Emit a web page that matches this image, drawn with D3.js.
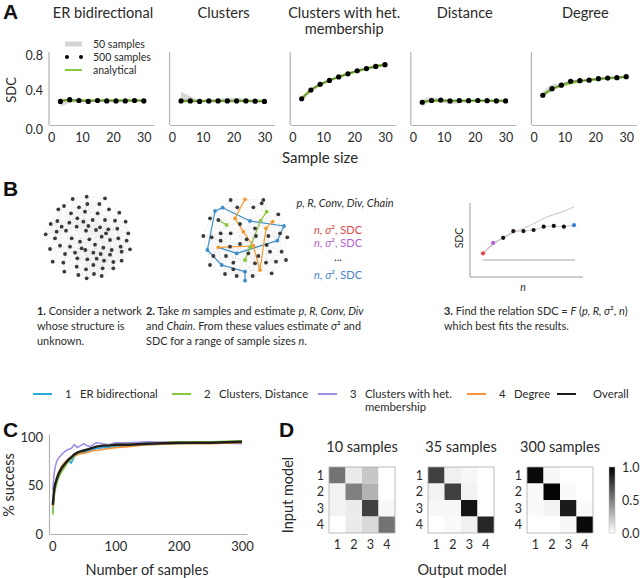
<!DOCTYPE html>
<html><head><meta charset="utf-8">
<script src="https://cdn.jsdelivr.net/npm/d3@7"></script>
<style>
body{margin:0;background:#fff}
svg{display:block}
text{font-family:Lato,"Open Sans",sans-serif;fill:#2a2a2a}
.lab{font-family:"Liberation Sans",Arial,sans-serif;font-weight:bold;fill:#111}
</style>
</head><body>
<svg id="c" width="640" height="578"></svg>
<script>
// ---------------- DATA ----------------
const sampleSizes = [3,6,9,12,15,18,21,24,27,30];
const panelTitles = [["ER bidirectional"],["Clusters"],["Clusters with het.","membership"],["Distance"],["Degree"]];
const sdcTicks = [0,0.4,0.8];
const sizeTicks = [0,10,20,30];
// 500 samples (dots)
const sdcER       = [0.27,0.29,0.28,0.27,0.28,0.275,0.275,0.275,0.28,0.275];
const sdcClusters = [0.275,0.275,0.27,0.275,0.275,0.275,0.275,0.275,0.272,0.27];
const sdcHet      = [0.30,0.40,0.465,0.51,0.55,0.585,0.62,0.645,0.67,0.69];
const sdcDistance = [0.26,0.28,0.285,0.275,0.28,0.278,0.28,0.278,0.275,0.275];
const sdcDegree   = [0.34,0.415,0.455,0.50,0.507,0.512,0.53,0.537,0.541,0.552];
// analytical (green)
const anER       = [0.28,0.28,0.28,0.28,0.28,0.28,0.28,0.28,0.28,0.28];
const anClusters = [0.275,0.275,0.275,0.275,0.275,0.275,0.275,0.275,0.275,0.275];
const anHet      = [0.30,0.40,0.46,0.51,0.55,0.585,0.615,0.645,0.67,0.69];
const anDistance = [0.27,0.275,0.278,0.278,0.278,0.278,0.278,0.278,0.278,0.278];
const anDegree   = [0.34,0.41,0.45,0.48,0.50,0.515,0.525,0.535,0.543,0.55];
// 50 samples (grey band): low / high
const bandERlo = [0.21,0.25,0.26,0.265,0.265,0.265,0.265,0.265,0.265,0.265];
const bandERhi = [0.30,0.30,0.29,0.29,0.29,0.29,0.29,0.29,0.29,0.29];
const bandClLo = [0.26,0.26,0.26,0.265,0.27,0.27,0.27,0.26,0.26,0.255];
const bandClHi = [0.38,0.33,0.29,0.29,0.30,0.31,0.31,0.30,0.29,0.29];
const bandHetLo = [0.27,0.37,0.445,0.495,0.535,0.57,0.605,0.63,0.655,0.675];
const bandHetHi = [0.32,0.42,0.48,0.525,0.565,0.60,0.635,0.66,0.685,0.705];
const bandDiLo = [0.20,0.27,0.26,0.24,0.245,0.26,0.265,0.265,0.265,0.265];
const bandDiHi = [0.29,0.32,0.30,0.29,0.29,0.29,0.29,0.29,0.29,0.29];
const bandDeLo = [0.32,0.39,0.44,0.48,0.49,0.50,0.515,0.525,0.53,0.54];
const bandDeHi = [0.38,0.46,0.48,0.51,0.52,0.525,0.54,0.55,0.555,0.565];

const legendA = ["50 samples","500 samples","analytical"];

// Panel B schematic: network nodes (picture units)
const net1Nodes = [[260,140],[218,147],[315,145],[192,168],[262,162],[298,162],[175,178],[237,172],[327,178],[358,188],
[213,190],[255,185],[293,190],[152,222],[172,213],[208,218],[232,205],[250,215],[278,210],[315,210],[345,212],[377,215],
[185,230],[230,230],[265,228],[300,232],[325,238],[352,236],[137,253],[170,245],[198,242],[258,242],[288,240],[318,250],[385,250],
[165,265],[215,265],[240,275],[268,268],[305,260],[330,270],[355,265],[380,272],[150,297],[180,287],[210,290],[245,295],[285,284],
[310,293],[335,300],[362,290],[390,298],[195,312],[225,308],[256,300],[280,308],[302,312],[330,314],[365,305],[158,335],[190,338],
[232,325],[262,328],[290,326],[312,332],[340,336],[365,332],[230,350],[258,358],[280,345],[308,355],[340,355],[193,365],[235,375],
[260,385],[282,372],[305,378]];
// [x, y, group] group: 0 dark, 1 blue, 2 orange, 3 green
const net2Nodes = [
[45,183,1],[68,173,1],[22,300,1],[65,345,1],[110,310,1],[232,272,1],[135,365,1],[135,392,1],[150,213,1],[252,228,1],
[135,148,2],[105,205,2],[130,245,2],[218,215,2],[198,235,2],[55,292,2],[160,288,2],[180,360,2],
[200,185,3],[80,225,3],[135,330,3],[150,292,3],[182,212,3],
[92,150,0],[185,160,0],[160,172,0],[112,172,0],[235,193,0],[30,205,0],[55,210,0],[120,222,0],[165,235,0],[240,250,0],
[10,258,0],[35,262,0],[62,250,0],[92,250,0],[168,258,0],[205,258,0],[262,262,0],[90,290,0],[120,282,0],[200,285,0],
[40,318,0],[78,318,0],[145,310,0],[175,318,0],[210,305,0],[245,305,0],[30,345,0],[100,338,0],[165,340,0],[198,338,0],
[228,335,0],[258,330,0],[75,372,0],[110,378,0],[158,378,0],[215,370,0],[140,268,0],[62,272,0],[190,150,0],[100,358,0]];
const net2Edges = [[0,1,1],[0,2,1],[1,8,1],[2,3,1],[15,4,1],[4,5,1],[5,9,1],[6,7,1],[3,6,1],[8,9,1],
[10,11,2],[11,12,2],[12,16,2],[15,16,2],[13,14,2],[14,17,2],[16,17,2],
[18,22,3],[22,21,3],[21,20,3],[19,29,3]];
const miniDots = [0.32,0.46,0.53,0.62,0.62,0.635,0.68,0.69,0.68,0.70];
const miniCurveX = [0,1,2,3.6,5,6.3,8,9];
const miniCurveY = [0.32,0.44,0.53,0.635,0.72,0.81,0.89,0.95];

// Panel C
const cSamples = [1,3,5,8,10,15,20,25,30,35,40,45,50,55,60,65,70,80,90,100,120,150,200,250,300];
const cER        = [22,40,48,55,58,66,72,76,73,80,82,83,84,85,86,87,88,89,89,90,91,92,93,94,95];
const cClustDist = [20,38,46,54,58,64,69,74,77,80,82,84,86,87,88,89,90,91,92,93,93,94,95,95,96];
const cHet       = [45,62,70,76,78,82,85,87,88,92,89,91,93,91,90,92,94,93,92,94,94,95,94,94,93];
const cDegree    = [28,45,53,60,63,70,74,77,79,81,82,83,83,84,85,86,86,87,88,89,90,92,93,93,94];
const cOverall   = [30,45,52,58,62,68,72,76,79,82,84,85,86,87,88,89,90,91,91,92,92,93,94,94,95];
const cSizeTicks = [0,100,200,300];
const cPctTicks = [0,50,100];
const legendNums = ["1","2","3","4",""];
const legendNames = [["ER bidirectional"],["Clusters, Distance"],["Clusters with het.","membership"],["Degree"],["Overall"]];

// Panel D confusion matrices (rows: input model, cols: output model)
const matTitles = ["10 samples","35 samples","300 samples"];
const mat10  = [[0.55,0.08,0.22,0.0],[0.05,0.50,0.30,0.0],[0.05,0.08,0.75,0.03],[0.0,0.08,0.15,0.55]];
const mat35  = [[0.75,0.06,0.03,0.0],[0.05,0.75,0.05,0.0],[0.03,0.03,0.92,0.0],[0.0,0.02,0.06,0.85]];
const mat300 = [[0.96,0.03,0.0,0.0],[0.02,0.98,0.02,0.0],[0.02,0.05,0.90,0.02],[0.0,0.0,0.03,0.96]];
const modelIds = ["1","2","3","4"];
const cbarTicks = [0,0.5,1.0];

// ---------------- DRAWING ----------------
const svg = d3.select("#c");
svg.append("rect").attr("width",640).attr("height",578).attr("fill","#fff");
const AX = "#b3b3b3";
const GREEN = "#8cc63f";

function styleAxis(g){ g.select(".domain").attr("stroke",AX).attr("stroke-width",1.2); g.selectAll(".tick line").remove(); g.selectAll("text").attr("fill","#2a2a2a").style("font-family","Lato, sans-serif"); }

// Panel labels
[["A",3,19],["B",3,196],["C",3,437],["D",279,437]].forEach(([t,x,y])=>svg.append("text").attr("class","lab").attr("x",x).attr("y",y).attr("font-size",21).text(t));

// ---- Panel A ----
const sets = [
 {dots:sdcER, an:anER, lo:bandERlo, hi:bandERhi},
 {dots:sdcClusters, an:anClusters, lo:bandClLo, hi:bandClHi},
 {dots:sdcHet, an:anHet, lo:bandHetLo, hi:bandHetHi},
 {dots:sdcDistance, an:anDistance, lo:bandDiLo, hi:bandDiHi},
 {dots:sdcDegree, an:anDegree, lo:bandDeLo, hi:bandDeHi}];
const yA = d3.scaleLinear().domain([0,0.8]).range([125,55]);
sets.forEach((s,i)=>{
  const x0 = 49 + i*120.6;
  const xA = d3.scaleLinear().domain([-0.7,33.3]).range([x0,x0+105]);
  const g = svg.append("g");
  panelTitles[i].forEach((t,k)=>g.append("text").attr("x",x0+54).attr("y",18+k*16).attr("text-anchor","middle").attr("font-size",14.6).text(t));
  const gx = g.append("g").attr("transform",`translate(0,${yA(0)})`).call(d3.axisBottom(xA).tickValues(sizeTicks).tickSize(0).tickSizeOuter(0).tickPadding(8));
  styleAxis(gx); gx.selectAll("text").attr("font-size",12.5);
  const gy = g.append("g").attr("transform",`translate(${x0},0)`).call(d3.axisLeft(yA).tickValues(sdcTicks).tickFormat(d3.format(".1f")).tickSize(0).tickSizeOuter(0).tickPadding(6));
  styleAxis(gy); gy.selectAll("text").attr("font-size",12.5);
  gy.select(".domain").attr("d",`M0,${yA(0)}V52`);
  if(i>0) gy.selectAll(".tick").remove();
  else gy.selectAll(".tick text").attr("dy", d=> d===0 ? "0.7em" : "0.32em");
  const area = d3.area().x((d,j)=>xA(sampleSizes[j])).y0(d=>yA(d[0])).y1(d=>yA(d[1])).curve(d3.curveMonotoneX);
  g.append("path").datum(s.lo.map((v,j)=>[v,s.hi[j]])).attr("d",area).attr("fill","#d4d4d4").attr("opacity",0.9);
  const line = d3.line().x((d,j)=>xA(sampleSizes[j])).y(d=>yA(d)).curve(d3.curveMonotoneX);
  g.append("path").datum(s.an).attr("d",line).attr("fill","none").attr("stroke",GREEN).attr("stroke-width",2.6);
  g.append("path").datum(s.dots).attr("d",line).attr("fill","none").attr("stroke","#333").attr("stroke-width",0.6);
  g.selectAll("circle").data(s.dots).join("circle").attr("cx",(d,j)=>xA(sampleSizes[j])).attr("cy",d=>yA(d)).attr("r",2.6).attr("fill","#000");
});
svg.append("text").attr("transform","translate(16,90) rotate(-90)").attr("text-anchor","middle").attr("font-size",13).text("SDC");
svg.append("text").attr("x",320).attr("y",163).attr("text-anchor","middle").attr("font-size",15).text("Sample size");
const lg = svg.append("g");
lg.append("line").attr("x1",65).attr("x2",82).attr("y1",44).attr("y2",44).attr("stroke","#d4d4d4").attr("stroke-width",5);
lg.append("circle").attr("cx",67).attr("cy",57).attr("r",2).attr("fill","#000");
lg.append("circle").attr("cx",81).attr("cy",57).attr("r",2).attr("fill","#000");
lg.append("line").attr("x1",65).attr("x2",82).attr("y1",70).attr("y2",70).attr("stroke",GREEN).attr("stroke-width",2);
legendA.forEach((t,k)=>lg.append("text").attr("x",93).attr("y",47.5+k*13).attr("font-size",10.5).text(t));

// ---- Panel B ----
const n1x = d3.scaleLinear().domain([0,690]).range([0,230]);
const n1y = d3.scaleLinear().domain([0,480]).range([150,310]);
function faintEdges(g, pts, sx, sy, thr){
  for(let i=0;i<pts.length;i++) for(let j=i+1;j<pts.length;j++){
    const dx=pts[i][0]-pts[j][0], dy=pts[i][1]-pts[j][1];
    if(Math.hypot(dx,dy)<thr) g.append("line").attr("x1",sx(pts[i][0])).attr("y1",sy(pts[i][1])).attr("x2",sx(pts[j][0])).attr("y2",sy(pts[j][1])).attr("stroke","#e4e4e4").attr("stroke-width",0.5);
  }
}
const g1 = svg.append("g");
faintEdges(g1, net1Nodes, n1x, n1y, 62);
g1.selectAll("circle").data(net1Nodes).join("circle").attr("cx",d=>n1x(d[0])).attr("cy",d=>n1y(d[1])).attr("r",1.9).attr("fill","#3a3a3a");

const n2x = d3.scaleLinear().domain([0,720]).range([200,440]);
const n2y = d3.scaleLinear().domain([0,480]).range([150,310]);
const netCol = ["#3a3a3a","#3b8ec9","#f39a2e","#8cc63f"];
const g2 = svg.append("g");
faintEdges(g2, net2Nodes, n2x, n2y, 62);
g2.selectAll("line.e").data(net2Edges).join("line").attr("class","e")
  .attr("x1",d=>n2x(net2Nodes[d[0]][0])).attr("y1",d=>n2y(net2Nodes[d[0]][1]))
  .attr("x2",d=>n2x(net2Nodes[d[1]][0])).attr("y2",d=>n2y(net2Nodes[d[1]][1]))
  .attr("stroke",d=>netCol[d[2]]).attr("stroke-width",1.2);
g2.selectAll("circle").data(net2Nodes).join("circle").attr("cx",d=>n2x(d[0])).attr("cy",d=>n2y(d[1])).attr("r",1.9).attr("fill",d=>netCol[d[2]]);

const tb = svg.append("g").attr("font-size",11);
tb.append("text").attr("x",345).attr("y",207).attr("text-anchor","middle").attr("font-style","italic").text("p, R, Conv, Div, Chain");
const sdcRows = [["#e2474b",234],["#b561d3",247],["#4a7fcc",279]];
sdcRows.forEach(([c,y])=>{
  const t = tb.append("text").attr("x",338).attr("y",y).attr("text-anchor","middle").style("fill",c);
  t.append("tspan").attr("font-style","italic").text("n");
  t.append("tspan").text(", ");
  t.append("tspan").attr("font-style","italic").text("σ");
  t.append("tspan").text("², SDC");
});
tb.append("text").attr("x",338).attr("y",261).attr("text-anchor","middle").text("...");

const mx = d3.scaleLinear().domain([0,9]).range([483,574]);
const my = d3.scaleLinear().domain([0,1]).range([277,203]);
const g3 = svg.append("g");
g3.append("path").attr("d",`M470,203V277H583`).attr("fill","none").attr("stroke","#999").attr("stroke-width",1);
g3.append("line").attr("x1",mx(0)).attr("x2",mx(9.1)).attr("y1",my(0.23)).attr("y2",my(0.23)).attr("stroke","#a8a8a8").attr("stroke-width",1);
g3.append("path").datum(miniCurveX.map((v,k)=>[v,miniCurveY[k]])).attr("d",d3.line().x(d=>mx(d[0])).y(d=>my(d[1])).curve(d3.curveMonotoneX)).attr("fill","none").attr("stroke","#cfcfcf").attr("stroke-width",1.2);
g3.append("path").datum(miniDots).attr("d",d3.line().x((d,k)=>mx(k)).y(d=>my(d))).attr("fill","none").attr("stroke","#c9a6b0").attr("stroke-width",0.7);
g3.selectAll("circle").data(miniDots).join("circle").attr("cx",(d,k)=>mx(k)).attr("cy",d=>my(d)).attr("r",2.1)
  .attr("fill",(d,k)=>k===0?"#e2474b":k===1?"#b561d3":k===9?"#3a7fd5":"#111");
svg.append("text").attr("transform","translate(463,238) rotate(-90)").attr("text-anchor","middle").attr("font-size",10.5).text("SDC");
svg.append("text").attr("x",523).attr("y",291).attr("text-anchor","middle").attr("font-size",10.5).attr("font-style","italic").text("n");

function caption(x, y, lines){
  lines.forEach((parts,k)=>{
    const t = svg.append("text").attr("x",x).attr("y",y+k*15).attr("font-size",10.9);
    parts.forEach(p=>{ const s=t.append("tspan").text(p[0]); if(p[1]==="b") s.attr("font-weight","bold"); if(p[1]==="i") s.attr("font-style","italic"); });
  });
}
caption(37,315,[[["1.","b"],[" Consider a network"]],[["whose structure is"]],[["unknown."]]]);
caption(146,315,[[["2.","b"],[" Take "],["m","i"],[" samples and estimate "],["p, R, Conv, Div","i"]],
  [["and "],["Chain","i"],[". From these values estimate "],["σ","i"],["² and"]],
  [["SDC for a range of sample sizes "],["n","i"],["."]]]);
caption(444,315,[[["3.","b"],[" Find the relation SDC = "],["F","i"],[" ("],["p, R, σ","i"],["², "],["n","i"],[")"]],[["which best fits the results."]]]);

// ---- Legend C/D ----
const cCols = ["#29abe2","#8cc63f","#a08ee8","#f7923a","#1e1e1e"];
const legX = [33,172,318,467,557];
const leg = svg.append("g").attr("font-size",11.3);
legX.forEach((x,k)=>{
  leg.append("line").attr("x1",x).attr("x2",x+19).attr("y1",394).attr("y2",394).attr("stroke",cCols[k]).attr("stroke-width",2);
  if(legendNums[k]) leg.append("text").attr("x",x+32).attr("y",398).text(legendNums[k]);
  legendNames[k].forEach((t,j)=>leg.append("text").attr("x",x+(legendNums[k]?47:36)).attr("y",398+j*13).text(t));
});

// ---- Panel C ----
const xC = d3.scaleLinear().domain([-5,308]).range([49,247]);
const yC = d3.scaleLinear().domain([0,103]).range([534,434]);
const gC = svg.append("g");
const gcx = gC.append("g").attr("transform",`translate(0,534)`).call(d3.axisBottom(xC).tickValues(cSizeTicks).tickSize(0).tickSizeOuter(0).tickPadding(8));
styleAxis(gcx); gcx.selectAll("text").attr("font-size",13);
const gcy = gC.append("g").attr("transform",`translate(49,0)`).call(d3.axisLeft(yC).tickValues(cPctTicks).tickSize(0).tickSizeOuter(0).tickPadding(6));
styleAxis(gcy); gcy.selectAll("text").attr("font-size",13);
const cSeries = [cER,cClustDist,cHet,cDegree,cOverall];
const lineC = d3.line().x((d,j)=>xC(cSamples[j])).y(d=>yC(d));
cSeries.forEach((s,k)=>gC.append("path").datum(s).attr("d",lineC).attr("fill","none").attr("stroke",cCols[k]).attr("stroke-width",k===4?2.4:1.6).attr("stroke-linejoin","round"));
svg.append("text").attr("transform","translate(14,485) rotate(-90)").attr("text-anchor","middle").attr("font-size",14.5).text("% success");
svg.append("text").attr("x",147).attr("y",575).attr("text-anchor","middle").attr("font-size",14.5).text("Number of samples");

// ---- Panel D ----
const mats = [mat10,mat35,mat300];
const gray = d3.scaleLinear().domain([0,1]).range(["#ffffff","#000000"]);
const matX = [329,428,527];
mats.forEach((m,i)=>{
  const bx = d3.scaleBand().domain(modelIds).range([matX[i],matX[i]+66]);
  const by = d3.scaleBand().domain(modelIds).range([467,533]);
  const g = svg.append("g");
  m.forEach((row,r)=>row.forEach((v,c)=>g.append("rect").attr("x",bx(modelIds[c])).attr("y",by(modelIds[r])).attr("width",bx.bandwidth()).attr("height",by.bandwidth()).attr("fill",gray(v))));
  g.append("rect").attr("x",matX[i]).attr("y",467).attr("width",66).attr("height",66).attr("fill","none").attr("stroke","#aaa").attr("stroke-width",0.8);
  modelIds.forEach(id=>{
    g.append("text").attr("x",matX[i]-5).attr("y",by(id)+by.bandwidth()/2+4.5).attr("text-anchor","end").attr("font-size",12.5).text(id);
    g.append("text").attr("x",bx(id)+bx.bandwidth()/2).attr("y",549).attr("text-anchor","middle").attr("font-size",12.5).text(id);
  });
  g.append("text").attr("x",matX[i]+33).attr("y",452).attr("text-anchor","middle").attr("font-size",14.5).text(matTitles[i]);
});
const defs = svg.append("defs");
const grad = defs.append("linearGradient").attr("id","cb").attr("x1",0).attr("x2",0).attr("y1",1).attr("y2",0);
grad.append("stop").attr("offset","0%").attr("stop-color","#fff");
grad.append("stop").attr("offset","100%").attr("stop-color","#000");
svg.append("rect").attr("x",609).attr("y",467).attr("width",6).attr("height",66).attr("fill","url(#cb)").attr("stroke","#bbb").attr("stroke-width",0.5);
const yCb = d3.scaleLinear().domain([0,1]).range([533,467]);
cbarTicks.forEach(v=>svg.append("text").attr("x",622).attr("y",yCb(v)+4.5).attr("font-size",12.5).text(d3.format(".1f")(v)));
svg.append("text").attr("transform","translate(293,495) rotate(-90)").attr("text-anchor","middle").attr("font-size",14.5).text("Input model");
svg.append("text").attr("x",462).attr("y",575).attr("text-anchor","middle").attr("font-size",14.5).text("Output model");
</script>
</body></html>
